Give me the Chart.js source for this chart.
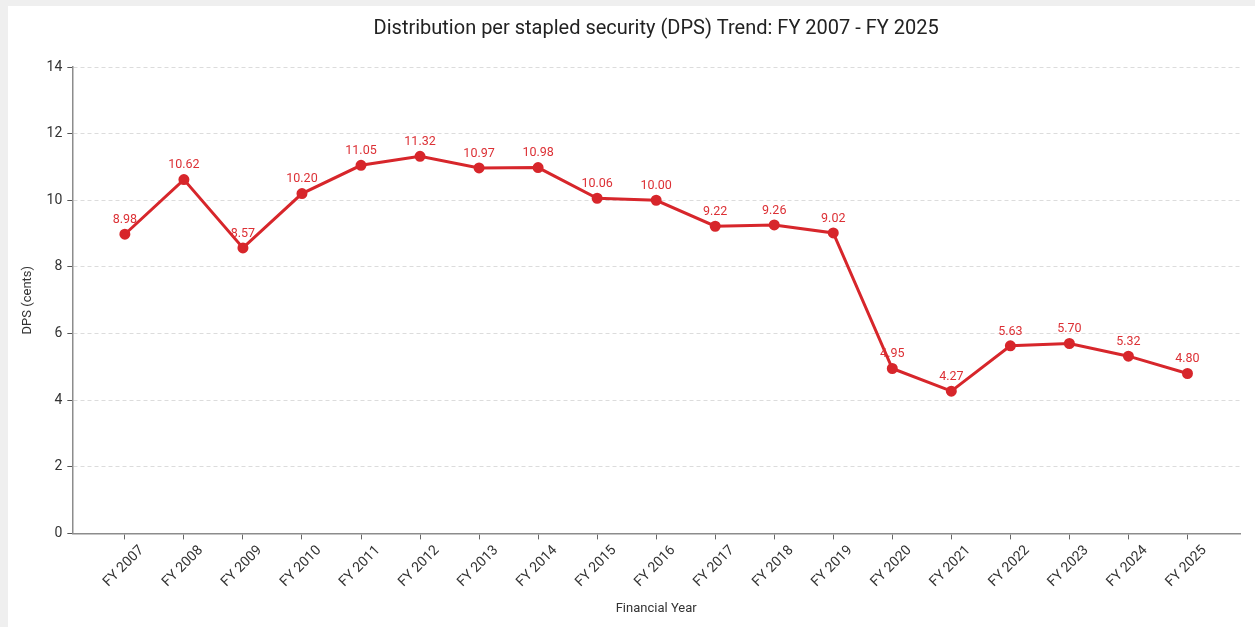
<!DOCTYPE html>
<html>
<head>
<meta charset="utf-8">
<script src="https://cdn.jsdelivr.net/npm/chart.js@4"></script>
<style>
  html, body { margin: 0; padding: 0; background: #efefef; }
  .card { position: absolute; left: 8px; top: 6px; width: 1247px; height: 621px; background: #fff; }
  canvas { display: block; }
</style>
</head>
<body>
<div class="card"><canvas id="dpsChart" width="1247" height="621"></canvas></div>
<script>
const fyLabels = ['FY 2007', 'FY 2008', 'FY 2009', 'FY 2010', 'FY 2011', 'FY 2012', 'FY 2013',
  'FY 2014', 'FY 2015', 'FY 2016', 'FY 2017', 'FY 2018', 'FY 2019', 'FY 2020', 'FY 2021',
  'FY 2022', 'FY 2023', 'FY 2024', 'FY 2025'];
const dpsValues = [8.98, 10.62, 8.57, 10.20, 11.05, 11.32, 10.97, 10.98, 10.06, 10.00,
  9.22, 9.26, 9.02, 4.95, 4.27, 5.63, 5.70, 5.32, 4.80];
const yTicks = [0, 2, 4, 6, 8, 10, 12, 14];

const RED = '#d7262b';
const FONT = 'Roboto, "Open Sans", sans-serif';

// draws the value above each point
const pointValues = {
  id: 'pointValues',
  afterDatasetsDraw(chart) {
    const { ctx } = chart;
    const meta = chart.getDatasetMeta(0);
    ctx.save();
    ctx.font = '12.5px ' + FONT;
    ctx.fillStyle = '#dc3035';
    ctx.textAlign = 'center';
    ctx.textBaseline = 'bottom';
    meta.data.forEach((pt, i) => {
      ctx.fillText(dpsValues[i].toFixed(2), pt.x, pt.y - 8);
    });
    ctx.restore();
  }
};

new Chart(document.getElementById('dpsChart'), {
  type: 'line',
  data: {
    datasets: [{
      label: 'DPS',
      data: dpsValues.map((v, i) => ({ x: i, y: v })),
      borderColor: RED,
      backgroundColor: RED,
      borderWidth: 3,
      pointRadius: 4,
      pointHoverRadius: 5,
      tension: 0
    }]
  },
  options: {
    responsive: false,
    animation: false,
    layout: { padding: { left: 8, right: 15, top: 4, bottom: 6 } },
    plugins: {
      legend: { display: false },
      tooltip: { enabled: false },
      title: {
        display: true,
        text: 'Distribution per stapled security (DPS) Trend: FY 2007 - FY 2025',
        fullSize: false,
        color: '#222',
        font: { family: FONT, size: 20, weight: 'normal' },
        padding: { top: 7, bottom: 26 }
      }
    },
    scales: {
      x: {
        type: 'linear',
        min: -0.89,
        max: fyLabels.length - 1 + 0.89,
        afterBuildTicks: (scale) => { scale.ticks = fyLabels.map((_, i) => ({ value: i })); },
        ticks: {
          autoSkip: false,
          minRotation: 45,
          maxRotation: 45,
          labelOffset: 17,
          color: '#333',
          font: { family: FONT, size: 14 },
          callback: (v) => fyLabels[v]
        },
        grid: { drawOnChartArea: false, drawTicks: true, tickLength: 6, tickColor: '#666' },
        border: { color: '#8c8c8c', width: 1.5 },
        title: {
          display: true,
          text: 'Financial Year',
          color: '#333',
          font: { family: FONT, size: 13 },
          padding: { top: 8 }
        }
      },
      y: {
        min: 0,
        max: 14,
        afterBuildTicks: (scale) => { scale.ticks = yTicks.map((v) => ({ value: v })); },
        ticks: { color: '#333', font: { family: FONT, size: 14 }, padding: 5 },
        grid: { color: '#dcdcdc', tickLength: 5, tickColor: '#555', tickBorderDash: [] },
        border: { color: '#8c8c8c', width: 1.5, dash: [4, 3] },
        title: {
          display: true,
          text: 'DPS (cents)',
          color: '#333',
          font: { family: FONT, size: 13 },
          padding: { bottom: 6 }
        }
      }
    }
  },
  plugins: [pointValues]
});
</script>
</body>
</html>
